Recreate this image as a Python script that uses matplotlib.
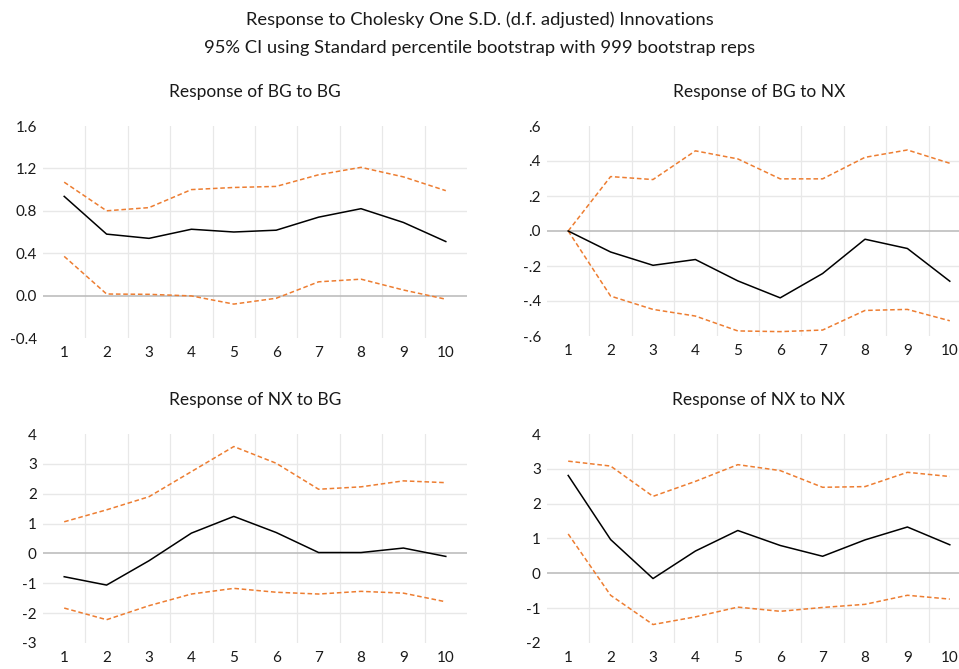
#!/usr/bin/env python3
"""Impulse responses with bootstrap bands, 2x2 panel."""

import matplotlib

matplotlib.use("Agg")
import matplotlib.pyplot as plt  # noqa: E402
import numpy as np  # noqa: E402

plt.rcParams["font.family"] = ["Lato", "DejaVu Sans"]

periods = list(range(1, 11))

bg_bg_resp = [0.936, 0.58, 0.54, 0.626, 0.60, 0.617, 0.74, 0.82, 0.69, 0.51]
bg_bg_hi = [1.07, 0.80, 0.83, 1.00, 1.02, 1.03, 1.14, 1.21, 1.12, 0.99]
bg_bg_lo = [0.37, 0.015, 0.012, -0.003, -0.08, -0.025, 0.13, 0.155, 0.053, -0.034]

bg_nx_resp = [0.0, -0.12, -0.196, -0.163, -0.285, -0.382, -0.243, -0.047, -0.10, -0.287]
bg_nx_hi = [0.0, 0.311, 0.294, 0.458, 0.412, 0.298, 0.298, 0.421, 0.463, 0.387]
bg_nx_lo = [0.0, -0.372, -0.448, -0.486, -0.571, -0.575, -0.566, -0.454, -0.448, -0.513]

nx_bg_resp = [-0.78, -1.06, -0.245, 0.68, 1.24, 0.70, 0.03, 0.03, 0.18, -0.10]
nx_bg_hi = [1.06, 1.46, 1.90, 2.74, 3.58, 3.02, 2.15, 2.23, 2.43, 2.37]
nx_bg_lo = [-1.83, -2.22, -1.75, -1.36, -1.17, -1.30, -1.36, -1.27, -1.33, -1.62]

nx_nx_resp = [2.81, 0.97, -0.15, 0.64, 1.23, 0.80, 0.49, 0.96, 1.33, 0.82]
nx_nx_hi = [3.22, 3.08, 2.21, 2.64, 3.12, 2.95, 2.47, 2.49, 2.90, 2.78]
nx_nx_lo = [1.13, -0.63, -1.47, -1.25, -0.97, -1.09, -0.98, -0.89, -0.63, -0.74]

bg_bg_ticks = [-0.4, 0.0, 0.4, 0.8, 1.2, 1.6]
bg_bg_labels = ["-0.4", "0.0", "0.4", "0.8", "1.2", "1.6"]
bg_nx_ticks = [-0.6, -0.4, -0.2, 0.0, 0.2, 0.4, 0.6]
bg_nx_labels = ["-.6", "-.4", "-.2", ".0", ".2", ".4", ".6"]
nx_bg_ticks = [-3, -2, -1, 0, 1, 2, 3, 4]
nx_bg_labels = ["-3", "-2", "-1", "0", "1", "2", "3", "4"]
nx_nx_ticks = [-2, -1, 0, 1, 2, 3, 4]
nx_nx_labels = ["-2", "-1", "0", "1", "2", "3", "4"]

W, H = 959, 669
ORANGE = "#ED7D31"
GRID = "#E8E8E8"


def _box(left, right, top, bottom):
    return [left / W, 1 - bottom / H, (right - left) / W, (bottom - top) / H]


def _panel(fig, rect, title, resp, hi, lo, ticks, labels):
    ax = fig.add_axes(rect)
    x = np.array(periods)
    ax.set_xlim(0.5, 10.5)
    ax.set_ylim(ticks[0], ticks[-1])
    for t in ticks[1:-1]:
        if t == 0:
            continue
        ax.axhline(t, color=GRID, lw=1.0, zorder=0)
    for v in np.arange(1.5, 10.5, 1.0):
        ax.axvline(v, color=GRID, lw=0.9, zorder=0)
    ax.axhline(0, color="#BDBDBD", lw=1.2, zorder=1)
    ax.plot(x, hi, color=ORANGE, lw=1.1, dashes=(3, 1.8), zorder=2)
    ax.plot(x, lo, color=ORANGE, lw=1.1, dashes=(3, 1.8), zorder=2)
    ax.plot(x, resp, color="black", lw=1.1, zorder=3)
    ax.set_xticks(periods)
    ax.set_xticklabels([str(p) for p in periods])
    ax.set_yticks(ticks)
    ax.set_yticklabels(labels)
    ax.tick_params(length=0, labelsize=11, colors="#1a1a1a")
    ax.tick_params(axis="y", pad=4.5)
    ax.tick_params(axis="x", pad=6)
    for s in ax.spines.values():
        s.set_visible(False)
    ax.set_title(title, fontsize=12.5, pad=21, color="#1a1a1a")
    return ax


fig = plt.figure(figsize=(W / 100, H / 100), dpi=100)

_panel(fig, _box(43, 467, 126, 338), "Response of BG to BG",
       bg_bg_resp, bg_bg_hi, bg_bg_lo, bg_bg_ticks, bg_bg_labels)
_panel(fig, _box(547, 971, 126, 336), "Response of BG to NX",
       bg_nx_resp, bg_nx_hi, bg_nx_lo, bg_nx_ticks, bg_nx_labels)
_panel(fig, _box(43, 467, 434, 643), "Response of NX to BG",
       nx_bg_resp, nx_bg_hi, nx_bg_lo, nx_bg_ticks, nx_bg_labels)
_panel(fig, _box(547, 971, 434, 643), "Response of NX to NX",
       nx_nx_resp, nx_nx_hi, nx_nx_lo, nx_nx_ticks, nx_nx_labels)

fig.text(0.5, 1 - 20 / H, "Response to Cholesky One S.D. (d.f. adjusted) Innovations",
         ha="center", va="center", fontsize=13.2, color="#1a1a1a")
fig.text(0.5, 1 - 48 / H, "95% CI using Standard percentile bootstrap with 999 bootstrap reps",
         ha="center", va="center", fontsize=13.2, color="#1a1a1a")

fig.savefig("out.png", dpi=100)
